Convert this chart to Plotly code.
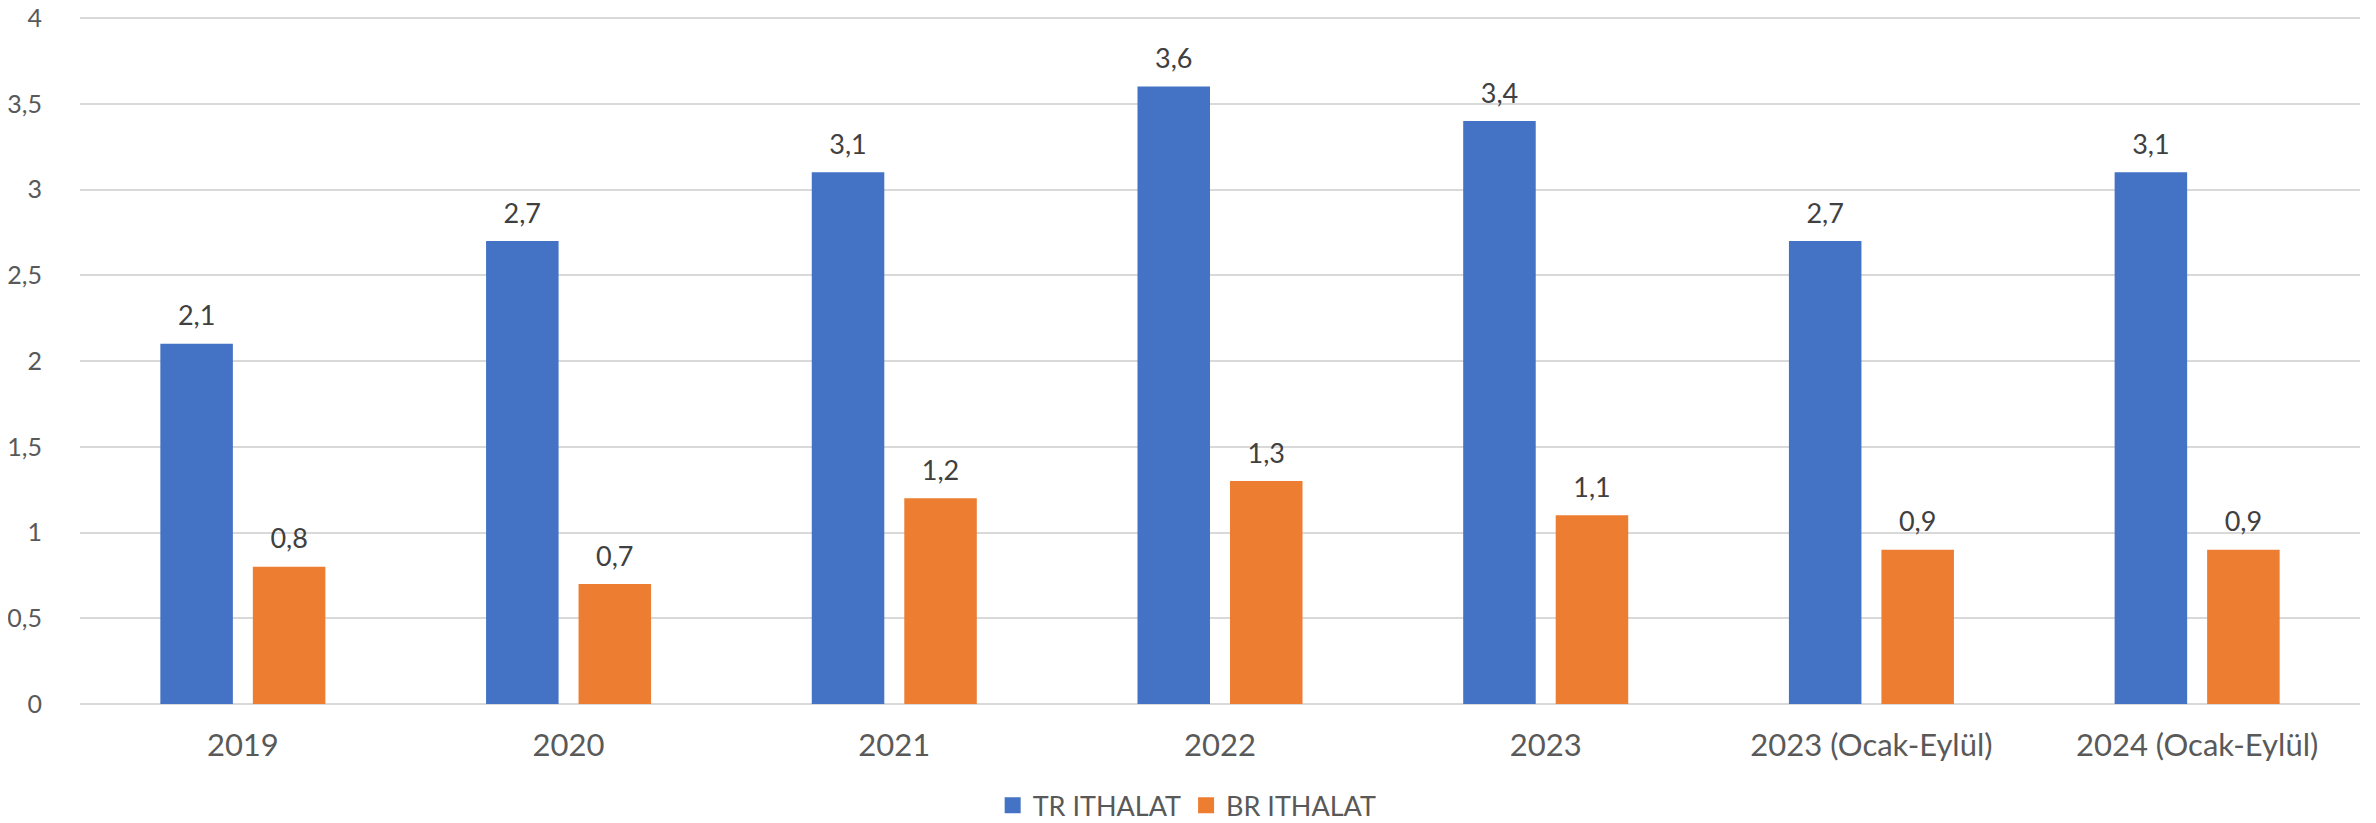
import plotly.graph_objects as go

categories = ["2019", "2020", "2021", "2022", "2023", "2023 (Ocak-Eylül)", "2024 (Ocak-Eylül)"]
tr_ithalat = [2.1, 2.7, 3.1, 3.6, 3.4, 2.7, 3.1]
br_ithalat = [0.8, 0.7, 1.2, 1.3, 1.1, 0.9, 0.9]
y_ticks = [0, 0.5, 1, 1.5, 2, 2.5, 3, 3.5, 4]
y_tick_labels = ["0", "0,5", "1", "1,5", "2", "2,5", "3", "3,5", "4"]
series_names = ["TR ITHALAT", "BR ITHALAT"]

BLUE = "#4472C4"
ORANGE = "#ED7D31"
FONT = "Lato"

def fmt(v):
    return f"{v:.1f}".replace(".", ",")

fig = go.Figure()
for i, (nm, vals, col) in enumerate(zip(series_names, (tr_ithalat, br_ithalat), (BLUE, ORANGE))):
    fig.add_trace(go.Bar(
        name=nm, x=categories, y=vals, marker=dict(color=col, line=dict(width=0)),
        offsetgroup=str(i), showlegend=False, hoverinfo="x+y",
    ))
# value labels, grouped like the bars
for i, (nm, vals) in enumerate(zip(series_names, (tr_ithalat, br_ithalat))):
    fig.add_trace(go.Scatter(
        name=nm, x=categories, y=vals, mode="markers+text", offsetgroup=str(i),
        marker=dict(size=17, color="rgba(0,0,0,0)"),
        text=[fmt(v) for v in vals], textposition="top center",
        textfont=dict(family=FONT, size=27, color="#404040"),
        cliponaxis=False, showlegend=False, hoverinfo="skip",
    ))
# legend-only entries with larger square swatches
for nm, col in zip(series_names, (BLUE, ORANGE)):
    fig.add_trace(go.Scatter(name=nm, x=[None], y=[None], mode="markers",
                             marker=dict(symbol="square", size=18, color=col), showlegend=True))

fig.update_layout(
    width=2368, height=815,
    margin=dict(l=72, r=16, t=0, b=119, autoexpand=False),
    paper_bgcolor="white", plot_bgcolor="white",
    barmode="group", bargap=0.432, bargroupgap=0.216,
    scattermode="group", scattergap=0.432,
    font=dict(family=FONT, color="#595959"),
    legend=dict(orientation="h", x=0.4856, xanchor="center", y=-0.146, yanchor="middle",
                font=dict(family=FONT, size=27, color="#595959")),
)
fig.update_xaxes(type="category", showgrid=False, showline=False, ticks="outside", ticklen=14,
                 tickcolor="rgba(0,0,0,0)",
                 tickfont=dict(family=FONT, size=31, color="#595959"))
fig.update_yaxes(range=[0, 4.0583], tickvals=y_ticks, ticktext=y_tick_labels, showgrid=True,
                 gridcolor="#D9D9D9", gridwidth=2, ticks="outside", ticklen=32,
                 tickcolor="rgba(0,0,0,0)", ticklabeloverflow="allow",
                 zeroline=True, zerolinecolor="#D9D9D9", zerolinewidth=2, showline=False,
                 tickfont=dict(family=FONT, size=25, color="#595959"))

fig.write_html("out.html")
